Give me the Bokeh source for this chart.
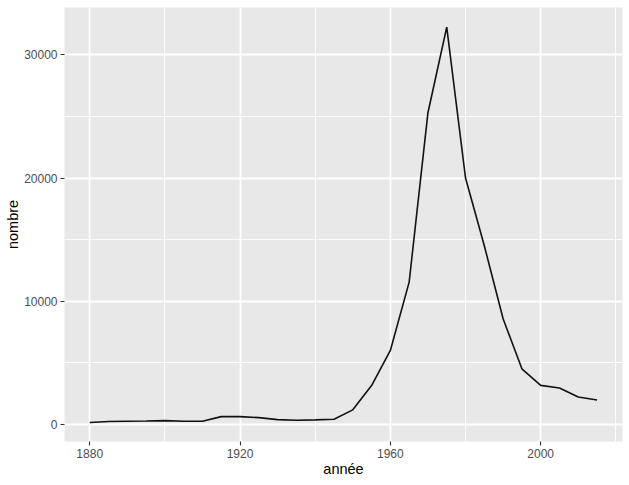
from bokeh.plotting import figure
from bokeh.models import Range1d, FixedTicker, ColumnDataSource
from bokeh.embed import file_html
from bokeh.resources import INLINE

annees = [1880, 1885, 1890, 1895, 1900, 1905, 1910, 1915, 1920, 1925,
          1930, 1935, 1940, 1945, 1950, 1955, 1960, 1965, 1970, 1975,
          1980, 1985, 1990, 1995, 2000, 2005, 2010, 2015]
nombres = [150, 230, 260, 280, 310, 260, 260, 630, 630, 550,
           390, 340, 370, 420, 1180, 3150, 6000, 11550, 25300, 32250,
           20000, 14500, 8570, 4510, 3170, 2950, 2230, 1980]

x_ticks = [1880, 1920, 1960, 2000]
x_minor = [1900, 1940, 1980, 2020]
y_ticks = [0, 10000, 20000, 30000]
y_minor = [5000, 15000, 25000]

src = ColumnDataSource(dict(annee=annees, nombre=nombres))

p = figure(width=629, height=485, output_backend="svg", toolbar_location=None,
           x_range=Range1d(1873.29, 2021.77), y_range=Range1d(-1388, 33840),
           min_border_left=64, min_border_right=7, min_border_top=7, min_border_bottom=44)

p.background_fill_color = "#E8E8E8"
p.border_fill_color = "white"
p.outline_line_color = None

p.line("annee", "nombre", source=src, line_color="#111111", line_width=1.6)

p.xaxis.ticker = FixedTicker(ticks=x_ticks, minor_ticks=x_minor)
p.yaxis.ticker = FixedTicker(ticks=y_ticks, minor_ticks=y_minor)

for g in (p.xgrid, p.ygrid):
    g.grid_line_color = "white"
    g.grid_line_width = 1.8
    g.minor_grid_line_color = "white"
    g.minor_grid_line_width = 0.9

for ax in (p.xaxis, p.yaxis):
    ax.axis_line_color = None
    ax.major_tick_line_color = "#333333"
    ax.major_tick_line_width = 1.1
    ax.major_tick_out = 4
    ax.major_tick_in = 0
    ax.minor_tick_line_color = None
    ax.major_label_text_font = "Liberation Sans"
    ax.major_label_text_font_size = "12px"
    ax.major_label_text_color = "#4D4D4D"
    ax.major_label_standoff = 3
    ax.axis_label_text_font = "Liberation Sans"
    ax.axis_label_text_font_size = "14.5px"
    ax.axis_label_text_font_style = "normal"
    ax.axis_label_text_color = "black"
    ax.axis_label_standoff = 0

p.xaxis.axis_label = "année"
p.yaxis.axis_label = "nombre"
p.yaxis.major_label_orientation = "horizontal"

open("out.html", "w").write(file_html(p, INLINE))
